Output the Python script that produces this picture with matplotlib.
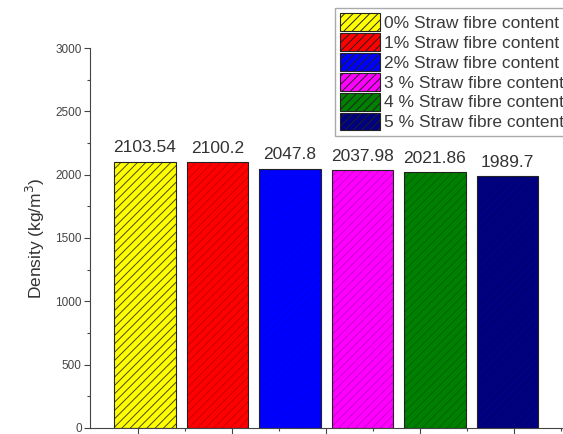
import numpy as np
import matplotlib.pyplot as plt
from matplotlib.ticker import MultipleLocator

plt.rcParams['font.family'] = ['Liberation Sans', 'DejaVu Sans']
plt.rcParams['hatch.linewidth'] = 0.7

# data
labels = ['0% Straw fibre content', '1% Straw fibre content', '2% Straw fibre content',
          '3 % Straw fibre content', '4 % Straw fibre content', '5 % Straw fibre content']
density = [2103.54, 2100.2, 2047.8, 2037.98, 2021.86, 1989.7]
value_text = ['2103.54', '2100.2', '2047.8', '2037.98', '2021.86', '1989.7']
fill_colors = ['#ffff00', '#ff0000', '#0000ff', '#ff00ff', '#008000', '#000080']
hatch_colors = ['#4a4a00', '#c80000', '#0000e8', '#c800c8', '#006400', '#000070']

fig = plt.figure(figsize=(5.63, 4.34), dpi=100)
ax = fig.add_axes([90 / 563, 1 - 428 / 434, 1 - 90 / 563, (428 - 48) / 434])

x = np.arange(len(density))
handles = []
for i in range(len(density)):
    b = ax.bar(x[i], density[i], width=0.85, color=fill_colors[i], edgecolor=hatch_colors[i],
               hatch='////', linewidth=0, label=labels[i])
    handles.append(b)
    ax.bar(x[i], density[i], width=0.85, facecolor='none', edgecolor='#222222',
           linewidth=0.8)
    ax.text(x[i], density[i] + 50, value_text[i], ha='center', va='bottom',
            fontsize=12.5, color='#333333')

ax.set_xlim(-0.759, 5.766)
ax.set_ylim(0, 3000)
ax.spines['top'].set_visible(False)
ax.spines['right'].set_visible(False)
for s in ['left', 'bottom']:
    ax.spines[s].set_color('#444444')
    ax.spines[s].set_linewidth(0.8)

ax.yaxis.set_major_locator(MultipleLocator(500))
ax.yaxis.set_minor_locator(MultipleLocator(250))
ax.set_xticks(np.arange(-0.097, 5.8, 1.296))
ax.set_xticks(np.arange(0.551, 5.8, 1.296), minor=True)
ax.set_xticklabels([])
ax.tick_params(axis='both', which='major', length=4, width=0.8, color='#444444',
               labelsize=8.5, labelcolor='#444444', pad=2)
ax.tick_params(axis='both', which='minor', length=2.5, width=0.8, color='#444444')
ax.set_ylabel('Density (kg/m$^3$)', fontsize=12.5, color='#333333', labelpad=6)

leg = fig.legend(handles, labels, loc='upper left', bbox_to_anchor=(335 / 563, 1 - 8 / 434),
                 fontsize=12.5, handlelength=2.3, handleheight=1.2, labelspacing=0.12,
                 handletextpad=0.25, borderpad=0.3, borderaxespad=0, fancybox=False,
                 framealpha=1, edgecolor='#aaaaaa')
for t in leg.get_texts():
    t.set_color('#3a3a3a')
for p in leg.get_patches():
    p.set_linewidth(0.8)
    p.set_edgecolor('#222222')

fig.savefig('out.png', dpi=100)
